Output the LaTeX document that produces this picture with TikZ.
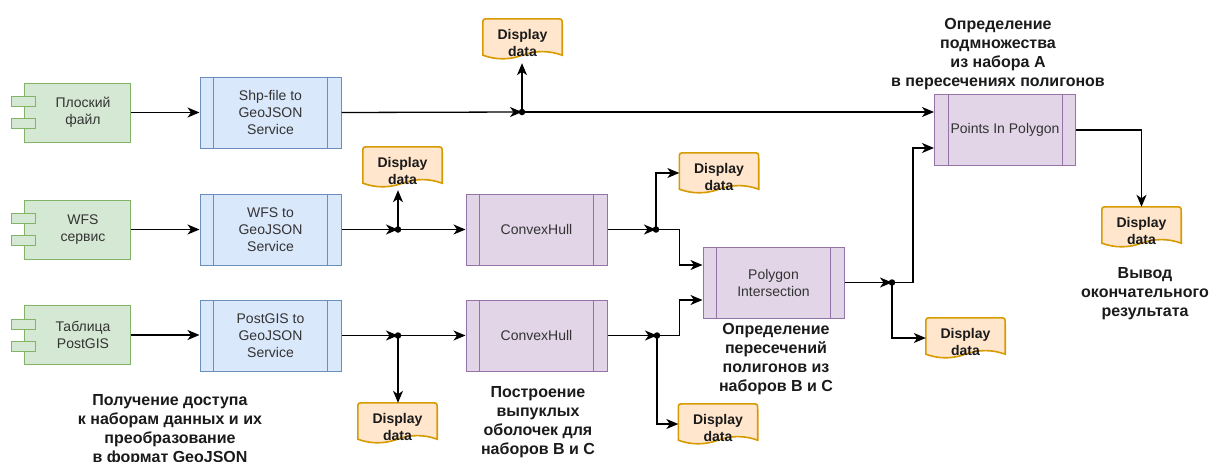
\documentclass[tikz,border=0pt]{standalone}
\usepackage{fontspec}
\setmainfont{Liberation Sans}
\usetikzlibrary{arrows.meta,calc}
\definecolor{compfill}{HTML}{D5E8D4}
\definecolor{compline}{HTML}{82B366}
\definecolor{blfill}{HTML}{DAE8FC}
\definecolor{blline}{HTML}{6C8EBF}
\definecolor{pufill}{HTML}{E1D5E7}
\definecolor{puline}{HTML}{9673A6}
\definecolor{docfill}{HTML}{FFE6CC}
\definecolor{docline}{HTML}{D79B00}
\definecolor{txt}{HTML}{333333}
\definecolor{lbl}{HTML}{1A1A1A}

\newcommand\compnode[4]{%
  \node[compbox] (#1) at (#2,#3) {};
  \node[comptab] (#1a) at ($(#1.west)+(0,-11)$) {};
  \node[comptab] (#1b) at ($(#1.west)+(0,11)$) {};
  \node (#1t) at ($(#1.center)+(6,0)$) {#4};
}
\newcommand\procnode[6]{%
  \node[#1] (#3) at (#4,#5) {#6};
  \draw[draw=#2, line width=1pt] ($(#3.north west)+(14,0)$) -- ($(#3.south west)+(14,0)$);
  \draw[draw=#2, line width=1pt] ($(#3.north east)+(-14,0)$) -- ($(#3.south east)+(-14,0)$);
}
\newcommand\docnode[3]{%
  \node[docb] (#1) at (#2,#3) {};
  \path[docsh] ($(#1.south west)+(0,-4)$) -- ($(#1.north west)+(0,6)$)
    .. controls (#1.north west) .. ($(#1.north west)+(6,0)$)
    -- ($(#1.north east)+(-6,0)$)
    .. controls (#1.north east) .. ($(#1.north east)+(0,6)$)
    -- ($(#1.south east)+(0,-4)$)
    .. controls ($(#1.south east)+(-13.17,-8.8)$) and ($(#1.south east)+(-26.33,-8.8)$) .. ($(#1.south)+(0,-4)$)
    .. controls ($(#1.south west)+(26.33,0.8)$) and ($(#1.south west)+(13.17,0.8)$) .. cycle;
  \node[doct] (#1t) at ($(#1.center)+(0,4)$) {Display\\data};
}

\begin{document}
\begin{tikzpicture}[x=1pt,y=-1pt,
 every node/.style={font=\fontsize{14}{17}\selectfont, text=txt, align=center, inner sep=0pt},
 compbox/.style={draw=compline, fill=compfill, line width=1pt, minimum width=106pt, minimum height=59pt},
 comptab/.style={draw=compline, fill=compfill, line width=1pt, minimum width=24pt, minimum height=10pt},
 procb/.style={draw=blline, fill=blfill, line width=1pt, minimum width=141pt, minimum height=71pt},
 procp/.style={draw=puline, fill=pufill, line width=1pt, minimum width=141pt, minimum height=71pt},
 docb/.style={minimum width=79pt, minimum height=40pt},
 doct/.style={font=\bfseries\fontsize{14}{17}\selectfont, text=lbl},
 docsh/.style={draw=docline, fill=docfill, line width=1.6pt},
 biglbl/.style={font=\bfseries\fontsize{16}{19}\selectfont, text=lbl},
 conn/.style={draw=black, line width=1.3pt, -{Stealth[length=12pt,width=10pt,inset=3.5pt]}},
 jdot/.style={circle, fill=black, minimum size=6.5pt, inner sep=0pt}
]
\useasboundingbox (0,0) rectangle (1213,461);

% sources
\compnode{c1}{77}{112.5}{Плоский\\файл}
\compnode{c2}{77}{229.5}{WFS\\сервис}
\compnode{c3}{77}{335}{Таблица\\PostGIS}

% processes
\procnode{procb}{blline}{shp}{270.5}{112.5}{Shp-file to\\GeoJSON\\Service}
\procnode{procb}{blline}{wfs}{270.5}{229.5}{WFS to\\GeoJSON\\Service}
\procnode{procb}{blline}{pg}{270.5}{335.5}{PostGIS to\\GeoJSON\\Service}
\procnode{procp}{puline}{ch1}{536.5}{229.5}{ConvexHull}
\procnode{procp}{puline}{ch2}{536.5}{335.5}{ConvexHull}
\procnode{procp}{puline}{pi}{773.5}{282.5}{Polygon\\Intersection}
\procnode{procp}{puline}{pip}{1005}{130}{Points In Polygon}

% display data
\docnode{d1}{522.5}{39}
\docnode{d2}{402.5}{167}
\docnode{d3}{719}{173}
\docnode{d4}{718}{424}
\docnode{d5}{397.5}{423}
\docnode{d6}{965.5}{338}
\docnode{d7}{1141.5}{227}

% junctions
\coordinate (j1) at (522,112);
\coordinate (j2) at (398,229.5);
\coordinate (j3) at (398,335.5);
\coordinate (j4) at (656,229.5);
\coordinate (j5) at (657,335.5);
\coordinate (j6) at (892,282.5);
\coordinate (pi1) at ($(pi.west)+(0,-17.5)$);
\coordinate (pi2) at ($(pi.west)+(0,17.5)$);
\coordinate (pip2) at ($(pip.west)+(0,18)$);

% connectors
\draw[conn] (c1.east) -- (shp.west);
\draw[conn] (c2.east) -- (wfs.west);
\draw[conn] (c3.east) -- (c3.east -| pg.west);

\draw[conn] (shp.east) -- (j1);
\draw[conn] (j1) -- (j1 -| pip.west);
\draw[conn] (j1) -- ($(j1 |- d1.south)+(0,4)$);

\draw[conn] (wfs.east) -- (j2);
\draw[conn] (j2) -- (ch1.west);
\draw[conn] (j2) -- ($(j2 |- d2.south)+(0,3)$);

\draw[conn] (pg.east) -- (j3);
\draw[conn] (j3) -- (ch2.west);
\draw[conn] (j3) -- (j3 |- d5.north);

\draw[conn] (ch1.east) -- (j4);
\draw[conn] (j4) |- (d3.west);
\draw[conn] (j4) -| ($(pi1)+(-23,0)$) -- (pi1);

\draw[conn] (ch2.east) -- (j5);
\draw[conn] (j5) |- (d4.west);
\draw[conn] (j5) -| ($(pi2)+(-23,0)$) -- (pi2);

\draw[conn] (pi.east) -- (j6);
\draw[conn] (j6) -| ($(pip2)+(-21,0)$) -- (pip2);
\draw[conn] (j6) |- (d6.west);

\draw[conn] (pip.east) -| (d7.north);

% junction dots
\foreach \j in {j1,j2,j3,j4,j5,j6} \node[jdot] (\j d) at (\j) {};

% labels
\node[biglbl] (l1) at (998,54) {Определение\\подмножества\\из набора А\\в пересечениях полигонов};
\node[biglbl] (l2) at (1145,294) {Вывод\\окончательного\\результата};
\node[biglbl] (l3) at (776,359) {Определение\\пересечений\\полигонов из\\наборов В и С};
\node[biglbl] (l4) at (538,422) {Построение\\выпуклых\\оболочек для\\наборов В и С};
\node[biglbl] (l5) at (170,430) {Получение доступа\\к наборам данных и их\\преобразование\\в формат GeoJSON};
\end{tikzpicture}
\end{document}
